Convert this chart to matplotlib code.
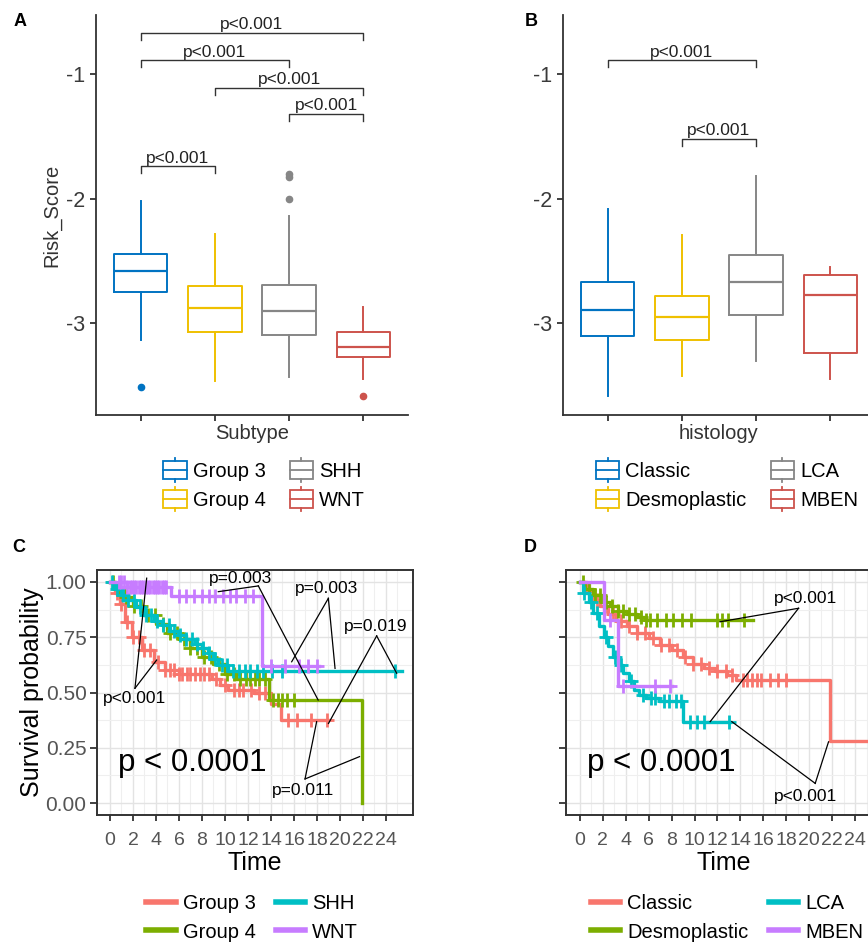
import matplotlib

matplotlib.use("Agg")
import matplotlib.pyplot as plt
import numpy as np
from matplotlib.legend_handler import HandlerBase
from matplotlib.lines import Line2D
from matplotlib.patches import Patch, Rectangle

plt.rcParams["font.family"] = ["Liberation Sans", "DejaVu Sans"]

# ---------------- data: panel A (risk score by subtype) ----------------
subtypes = ["Group 3", "Group 4", "SHH", "WNT"]
sub_whislo = [-3.13, -3.46, -3.43, -3.45]
sub_q1 = [-2.75, -3.07, -3.09, -3.27]
sub_med = [-2.58, -2.88, -2.90, -3.19]
sub_q3 = [-2.44, -2.70, -2.69, -3.07]
sub_whishi = [-2.02, -2.28, -2.14, -2.87]
sub_fliers = [[-3.51], [], [-2.00, -1.83, -1.80], [-3.58]]
sub_pairs = [(1, 2), (3, 4), (2, 4), (1, 3), (1, 4)]
sub_pair_y = [-1.74, -1.32, -1.11, -0.89, -0.67]
sub_pair_p = ["p<0.001", "p<0.001", "p<0.001", "p<0.001", "p<0.001"]

# ---------------- data: panel B (risk score by histology) ----------------
histologies = ["Classic", "Desmoplastic", "LCA", "MBEN"]
his_whislo = [-3.58, -3.42, -3.30, -3.45]
his_q1 = [-3.10, -3.13, -2.93, -3.24]
his_med = [-2.89, -2.95, -2.67, -2.77]
his_q3 = [-2.67, -2.78, -2.45, -2.61]
his_whishi = [-2.08, -2.29, -1.82, -2.55]
his_fliers = [[], [], [], []]
his_pairs = [(2, 3), (1, 3)]
his_pair_y = [-1.52, -0.89]
his_pair_p = ["p<0.001", "p<0.001"]

# ---------------- data: panel C (survival by subtype) ----------------
g3_t = [0, 0.4, 0.9, 1.3, 1.9, 2.8, 3.8, 4.8, 6.0, 8.9, 9.6, 10.3, 12.5, 14.0, 14.9]
g3_s = [1.0, 0.95, 0.90, 0.82, 0.75, 0.69, 0.64, 0.60, 0.585, 0.56, 0.535, 0.51, 0.50, 0.45, 0.375]
g3_end = 19.0
g3_cens = [0.6, 1.0, 1.5, 2.0, 2.5, 3.0, 3.5, 4.2, 4.8, 5.2, 5.6, 6.0, 6.3, 6.7, 7.0, 7.4,
           7.8, 8.2, 8.6, 9.2, 10.0, 10.8, 11.2, 11.6, 12.3, 13.0, 13.5, 15.5, 16.3, 17.5, 18.9]

g4_t = [0, 0.5, 1.2, 2.0, 3.0, 4.0, 5.0, 6.0, 7.0, 8.0, 9.0, 10.0, 11.0, 13.8, 21.9]
g4_s = [1.0, 0.97, 0.93, 0.89, 0.85, 0.81, 0.77, 0.74, 0.70, 0.66, 0.63, 0.585, 0.56, 0.465, 0.0]
g4_end = 21.9
g4_cens = [0.3, 0.8, 1.4, 2.1, 2.7, 3.3, 3.9, 4.6, 5.2, 5.8, 6.4, 7.0, 7.6, 8.2, 8.8, 9.5,
           10.2, 10.8, 11.3, 11.8, 12.2, 12.6, 13.0, 13.5, 14.2, 14.6, 15.0, 15.4, 16.0]

shh_t = [0, 0.4, 1.0, 1.6, 2.3, 3.0, 3.8, 4.5, 5.2, 5.9, 6.6, 7.4, 8.0, 8.5, 9.0, 9.4, 10.3]
shh_s = [1.0, 0.97, 0.94, 0.92, 0.885, 0.85, 0.825, 0.805, 0.78, 0.76, 0.74, 0.72, 0.70,
         0.68, 0.65, 0.625, 0.595]
shh_end = 25.4
shh_cens = [0.2, 0.6, 1.1, 1.6, 2.1, 2.6, 3.1, 3.6, 4.1, 4.6, 5.1, 5.6, 6.1, 6.6, 7.1, 7.6,
            8.1, 8.6, 9.1, 9.7, 10.2, 10.7, 11.2, 11.7, 12.2, 12.8, 13.3, 14.1, 15.0, 24.8]

wnt_t = [0, 1.5, 5.3, 13.2]
wnt_s = [1.0, 0.975, 0.935, 0.62]
wnt_end = 18.2
wnt_cens = [0.8, 1.0, 1.2, 1.5, 1.7, 1.9, 2.1, 2.3, 2.5, 2.7, 2.9, 3.1, 3.3, 3.5, 3.7, 3.9,
            4.1, 4.3, 4.5, 4.7, 4.9, 6.0, 6.6, 7.3, 8.0, 8.6, 9.1, 9.8, 10.4, 11.0, 11.7,
            12.4, 14.0, 15.2, 16.4, 17.2, 18.0]

# ---------------- data: panel D (survival by histology) ----------------
cla_t = [0, 0.6, 1.2, 1.8, 2.5, 3.2, 4.1, 5.0, 6.0, 7.0, 8.0, 9.0, 9.9, 10.8, 11.8, 12.8, 13.6, 21.8]
cla_s = [1.0, 0.96, 0.92, 0.89, 0.855, 0.825, 0.80, 0.77, 0.745, 0.715, 0.69, 0.66, 0.63,
         0.61, 0.595, 0.58, 0.555, 0.28]
cla_end = 25.2
cla_cens = [0.8, 1.5, 2.2, 2.9, 3.6, 4.3, 5.0, 5.7, 6.4, 7.1, 7.8, 8.5, 9.2, 9.9, 10.6, 11.3,
            12.0, 12.7, 13.3, 14.2, 14.6, 15.0, 15.4, 15.8, 16.6, 17.3, 18.0, 25.2]

des_t = [0, 0.5, 1.2, 1.9, 2.6, 3.3, 4.1, 5.0, 5.8]
des_s = [1.0, 0.97, 0.94, 0.91, 0.89, 0.87, 0.855, 0.84, 0.83]
des_end = 15.1
des_cens = [0.3, 0.8, 1.3, 1.8, 2.3, 2.8, 3.3, 3.8, 4.3, 4.8, 5.3, 5.8, 6.1, 6.7, 7.5, 8.1,
            8.9, 9.7, 12.0, 12.4, 12.9, 14.3]

lca_t = [0, 0.3, 0.8, 1.2, 1.7, 2.1, 2.5, 2.9, 3.4, 3.8, 4.3, 4.7, 5.2, 5.8, 6.9, 9.0]
lca_s = [1.0, 0.95, 0.91, 0.86, 0.80, 0.75, 0.71, 0.66, 0.625, 0.59, 0.55, 0.51, 0.49,
         0.475, 0.46, 0.365]
lca_end = 13.1
lca_cens = [0.4, 1.0, 1.5, 2.3, 3.1, 3.6, 4.5, 5.5, 6.2, 6.6, 7.3, 7.8, 8.4, 8.8, 9.6,
            10.2, 10.8, 13.0]

mben_t = [0, 2.1, 3.3]
mben_s = [1.0, 0.83, 0.53]
mben_end = 8.0
mben_cens = [2.6, 3.8, 6.6, 7.9]

BOX_COLORS = ["#0073C2", "#EFC000", "#868686", "#CD534C"]
KM_COLORS = ["#F8766D", "#7CAE00", "#00BFC4", "#C77CFF"]
DARK = "#333333"
TICK_GREY = "#555555"

W, H = 868, 946


def fig_rect(left, top, right, bottom):
    # pixel box -> figure fraction
    return [left / W, 1 - bottom / H, (right - left) / W, (bottom - top) / H]


class BoxKey(HandlerBase):
    def create_artists(self, legend, orig_handle, xdescent, ydescent, width, height,
                       fontsize, trans):
        c = orig_handle.get_edgecolor()
        x0 = -xdescent
        yc = -ydescent + height / 2
        bh = height * 0.62
        wh = height * 0.85
        box = Rectangle((x0, yc - bh), width, 2 * bh, facecolor="white", edgecolor=c,
                        lw=1.3, transform=trans)
        med = Line2D([x0, x0 + width], [yc, yc], color=c, lw=1.3, transform=trans)
        hi = Line2D([x0 + width / 2] * 2, [yc + bh, yc + wh], color=c, lw=1.3, transform=trans)
        lo = Line2D([x0 + width / 2] * 2, [yc - bh, yc - wh], color=c, lw=1.3, transform=trans)
        return [box, med, hi, lo]


def box_panel(ax, labels, whislo, q1, med, q3, whishi, fliers, pairs, pair_y, pair_p,
              xlabel, ylabel):
    stats = []
    for i in range(len(labels)):
        stats.append(dict(whislo=whislo[i], q1=q1[i], med=med[i], q3=q3[i],
                          whishi=whishi[i], fliers=fliers[i], label=labels[i]))
    art = ax.bxp(stats, positions=[1, 2, 3, 4], widths=0.72, showcaps=False,
                 boxprops=dict(lw=1.4), medianprops=dict(lw=1.6),
                 whiskerprops=dict(lw=1.4),
                 flierprops=dict(marker="o", markersize=4.5, linestyle="none"))
    for i, c in enumerate(BOX_COLORS):
        art["boxes"][i].set_color(c)
        art["medians"][i].set_color(c)
        art["whiskers"][2 * i].set_color(c)
        art["whiskers"][2 * i + 1].set_color(c)
        art["fliers"][i].set(markerfacecolor=c, markeredgecolor=c)

    tip = 0.055
    for (a, b), y, p in zip(pairs, pair_y, pair_p):
        ax.plot([a, a, b, b], [y - tip, y, y, y - tip], color=DARK, lw=1.0)
        ax.text((a + b) / 2, y + 0.004, p, ha="center", va="bottom", fontsize=12.5,
                color="#222222")

    ax.set_xlim(0.4, 4.6)
    ax.set_ylim(-3.735, -0.527)
    ax.set_yticks([-3, -2, -1])
    ax.set_yticklabels(["-3", "-2", "-1"])
    ax.set_xticks([1, 2, 3, 4])
    ax.set_xticklabels([])
    for s in ["top", "right"]:
        ax.spines[s].set_visible(False)
    for s in ["left", "bottom"]:
        ax.spines[s].set_color(DARK)
        ax.spines[s].set_linewidth(1.3)
    ax.tick_params(colors=DARK, width=1.3, length=4.5, labelsize=15.5, labelcolor="#3a3a3a")
    ax.set_xlabel(xlabel, fontsize=14.5, color="#333333", labelpad=-1.5)
    if ylabel:
        ax.set_ylabel(ylabel, fontsize=14.5, color="#333333", labelpad=3)


def surv_at(t, s, when):
    idx = np.searchsorted(np.asarray(t), np.asarray(when), side="right") - 1
    return np.asarray(s)[idx]


def km_panel(ax, curves, xlim, notes, show_ylabels):
    ax.set_facecolor("white")
    ax.set_axisbelow(True)
    ax.set_xticks(np.arange(0, 25, 2))
    ax.set_xticks(np.arange(1, 26, 2), minor=True)
    ax.set_yticks([0, 0.25, 0.5, 0.75, 1.0])
    ax.set_yticks([0.125, 0.375, 0.625, 0.875], minor=True)
    ax.grid(True, which="major", color="#E3E3E3", lw=1.0)
    ax.grid(True, which="minor", color="#EFEFEF", lw=0.8)

    for (t, s, end, cens), c in zip(curves, KM_COLORS):
        xs = list(t) + [end]
        ys = list(s) + [s[-1]]
        ax.step(xs, ys, where="post", color=c, lw=2.4, zorder=3)
        ax.plot(cens, surv_at(t, s, cens), linestyle="none", marker="+", markersize=10,
                markeredgewidth=2.0, color=c, zorder=3)

    for label, (tx, ty), (vx, vy), ends in notes:
        for ex, ey in ends:
            ax.plot([vx, ex], [vy, ey], color="black", lw=0.9, zorder=4)
        ax.text(tx, ty, label, ha="center", va="center", fontsize=12.5, zorder=5)

    ax.text(xlim[0] + 1.85, 0.18, "p < 0.0001", ha="left", va="center", fontsize=22.5,
            color="black", zorder=5)

    ax.set_xlim(*xlim)
    ax.set_ylim(-0.054, 1.054)
    ax.set_yticklabels(["0.00", "0.25", "0.50", "0.75", "1.00"] if show_ylabels else [])
    for s in ax.spines.values():
        s.set_color(DARK)
        s.set_linewidth(1.4)
    ax.tick_params(axis="x", which="major", colors=DARK, width=1.3, length=4, labelsize=14,
                   labelcolor=TICK_GREY, pad=8.5)
    ax.tick_params(axis="y", which="major", colors=DARK, width=1.3, length=5, labelsize=15,
                   labelcolor=TICK_GREY, pad=2.5)
    ax.tick_params(which="minor", length=0)
    ax.set_xlabel("Time", fontsize=18, labelpad=1)
    if show_ylabels:
        ax.set_ylabel("Survival probability", fontsize=18, labelpad=1)


fig = plt.figure(figsize=(W / 100, H / 100), dpi=100)

# ---- A ----
axA = fig.add_axes(fig_rect(96, 15, 408, 415))
box_panel(axA, subtypes, sub_whislo, sub_q1, sub_med, sub_q3, sub_whishi, sub_fliers,
          sub_pairs, sub_pair_y, sub_pair_p, "Subtype", "Risk_Score")
fig.legend([Patch(edgecolor=c, facecolor="white") for c in BOX_COLORS], subtypes,
           handler_map={Patch: BoxKey()}, loc="center", ncol=2, frameon=False,
           bbox_to_anchor=(264 / W, 1 - 486 / H), fontsize=14.5, handlelength=1.15,
           handletextpad=0.3, columnspacing=1.2, labelspacing=0.5, borderpad=0)

# ---- B ----
axB = fig.add_axes(fig_rect(563, 15, 875, 415))
box_panel(axB, histologies, his_whislo, his_q1, his_med, his_q3, his_whishi, his_fliers,
          his_pairs, his_pair_y, his_pair_p, "histology", None)
fig.legend([Patch(edgecolor=c, facecolor="white") for c in BOX_COLORS], histologies,
           handler_map={Patch: BoxKey()}, loc="center", ncol=2, frameon=False,
           bbox_to_anchor=(727 / W, 1 - 486 / H), fontsize=14.5, handlelength=1.15,
           handletextpad=0.3, columnspacing=1.2, labelspacing=0.5, borderpad=0)

# ---- C ----
axC = fig.add_axes(fig_rect(97, 570, 413, 815))
c_curves = [(g3_t, g3_s, g3_end, g3_cens), (g4_t, g4_s, g4_end, g4_cens),
            (shh_t, shh_s, shh_end, shh_cens), (wnt_t, wnt_s, wnt_end, wnt_cens)]
c_notes = [
    ("p<0.001", (2.12, 0.474), (2.17, 0.519), [(3.19, 1.017), (4.06, 0.647)]),
    ("p=0.003", (11.39, 1.017), (12.9, 0.982), [(9.42, 0.956), (18.1, 0.466)]),
    ("p=0.003", (18.84, 0.971), (18.99, 0.926), [(15.8, 0.639), (19.57, 0.609)]),
    ("p=0.019", (23.1, 0.798), (23.19, 0.756), [(19.0, 0.36), (24.93, 0.587)]),
    ("p=0.011", (16.8, 0.056), (16.96, 0.109), [(17.97, 0.368), (21.7, 0.21)]),
]
km_panel(axC, c_curves, (-1.13, 26.35), c_notes, True)
fig.legend([Line2D([], [], color=c, lw=4) for c in KM_COLORS], subtypes, loc="center",
           ncol=2, frameon=False, bbox_to_anchor=(252 / W, 1 - 918 / H), fontsize=14.5,
           handlelength=1.45, handletextpad=0.35, columnspacing=1.0, labelspacing=0.45,
           borderpad=0)

# ---- D ----
axD = fig.add_axes(fig_rect(565.7, 570, 881.7, 815))
d_curves = [(cla_t, cla_s, cla_end, cla_cens), (des_t, des_s, des_end, des_cens),
            (lca_t, lca_s, lca_end, lca_cens), (mben_t, mben_s, mben_end, mben_cens)]
d_notes = [
    ("p<0.001", (19.64, 0.926), (19.06, 0.881), [(12.23, 0.82), (11.36, 0.368)]),
    ("p<0.001", (19.64, 0.029), (20.51, 0.089), [(13.25, 0.368), (21.67, 0.277)]),
]
km_panel(axD, d_curves, (-1.22, 26.3), d_notes, False)
fig.legend([Line2D([], [], color=c, lw=4) for c in KM_COLORS], histologies, loc="center",
           ncol=2, frameon=False, bbox_to_anchor=(727 / W, 1 - 918 / H), fontsize=14.5,
           handlelength=1.45, handletextpad=0.35, columnspacing=1.0, labelspacing=0.45,
           borderpad=0)

for lab, x, y in [("A", 20, 22), ("B", 531, 22), ("C", 19, 548), ("D", 530, 548)]:
    fig.text(x / W, 1 - y / H, lab, fontsize=13, fontweight="bold", ha="center", va="center")

fig.savefig("out.png", dpi=100)
